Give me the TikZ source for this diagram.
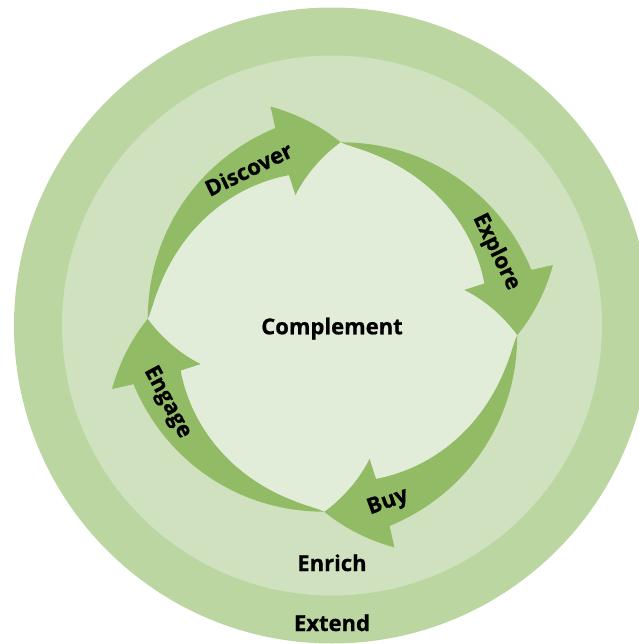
\documentclass[tikz,border=0pt]{standalone}
\usepackage{fontspec}
\setmainfont{Open Sans}
\newfontfamily\lblfont{Open Sans}[BoldFeatures={FakeBold=0.8}]
\definecolor{extendc}{HTML}{BBD6A0}
\definecolor{enrichc}{HTML}{CFE1BE}
\definecolor{innerc}{HTML}{E2EDD9}
\definecolor{arrowc}{HTML}{91BB64}
\begin{document}
\begin{tikzpicture}[x=0.75pt,y=0.75pt,
  lbl/.style={font=\lblfont\bfseries\fontsize{16.5}{20}\selectfont, text=black, inner sep=0pt},
  ring/.style={fill=#1}]
\useasboundingbox (-332,-318.5) rectangle (307,325.5);
\clip (-332,-318.5) rectangle (307,325.5);
\fill[ring=extendc] (0,0) circle (318);
\fill[ring=enrichc] (0,0) circle (270);
\begin{scope}[shift={(0.5,-1.5)}]
  \fill[ring=innerc] (0,0) circle (185);
  \foreach \a in {177.5,87.5,-2.5,-92.5}{
    \fill[arrowc] (\a:185)
      -- plot[domain=0.02:1,samples=40] ({\a-71.5*\x}:{185+22*\x^1.3})
      -- ({\a-71.8}:229)
      -- plot[domain=0:1,samples=20] ({\a-71.8-18.2*\x}:{229-44*\x})
      -- plot[domain=0:1,samples=20] ({\a-90+18.2*\x}:{185-48*\x})
      -- ({\a-71.5}:158)
      -- plot[domain=1:0.02,samples=40] ({\a-71.5*\x}:{185-27*\x^0.7})
      -- cycle;
  }
\end{scope}
\node[lbl, anchor=base] (complement) at (0,-8.8) {Complement};
\node[lbl, anchor=base] (enrich) at (0,-245.5) {Enrich};
\node[lbl, anchor=base] (extend) at (0,-305.5) {Extend};
\node[lbl, rotate=26] (discover) at (-83.5,156.5) {Discover};
\node[lbl, rotate=-64] (explore) at (164,73.5) {Explore};
\node[lbl, rotate=20] (buy) at (56,-177) {Buy};
\node[lbl, rotate=-62] (engage) at (-165,-77) {Engage};
\end{tikzpicture}
\end{document}
